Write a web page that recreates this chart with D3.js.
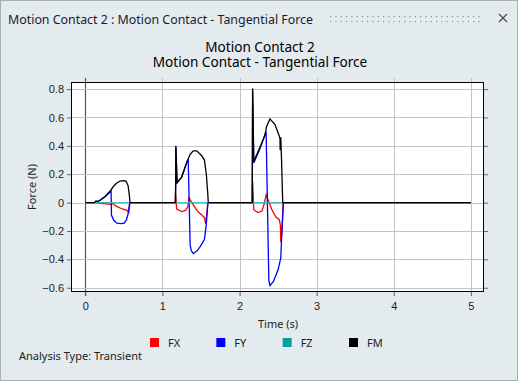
<!DOCTYPE html>
<html>
<head>
<meta charset="utf-8">
<script src="https://cdn.jsdelivr.net/npm/d3@7"></script>
<style>
  body { margin: 0; background: #e4ebef; }
  svg { display: block; font-family: "Noto Sans", "Open Sans", sans-serif; }
  .tick text { font-size: 11px; fill: #222; }
  .label-text { font-size: 11px; fill: #222; }
</style>
</head>
<body>
<script>
// time (s), force (N) pairs per series
var fxPoints = [[0,0],[0.13,0],[0.2,-0.005],[0.33,-0.012],[0.335,0],[0.36,-0.01],[0.42,-0.03],[0.48,-0.045],[0.54,-0.055],[0.565,-0.07],[0.58,0],
    [1.165,0],[1.17,0.066],[1.185,-0.045],[1.25,-0.063],[1.30,-0.055],[1.33,-0.03],[1.345,0.035],[1.40,-0.016],[1.46,-0.063],[1.51,-0.087],[1.545,-0.105],[1.56,-0.15],[1.575,-0.08],[1.59,0],
    [2.165,0],[2.17,0.148],[2.185,-0.05],[2.24,-0.07],[2.29,-0.06],[2.32,-0.01],[2.345,0.055],[2.42,-0.05],[2.47,-0.1],[2.515,-0.12],[2.53,-0.16],[2.535,-0.28],[2.55,-0.2],[2.565,0],[5,0]];
var fyPoints = [[0,0],[0.12,0],[0.14,0.01],[0.16,0.006],[0.2,0.018],[0.26,0.043],[0.32,0.072],[0.335,0.08],[0.34,-0.09],[0.37,-0.125],[0.41,-0.145],[0.46,-0.148],[0.505,-0.145],[0.535,-0.12],[0.555,-0.08],[0.575,0],
    [1.17,0],[1.175,0.39],[1.19,0.14],[1.25,0.18],[1.32,0.29],[1.335,0.30],[1.36,-0.30],[1.375,-0.34],[1.40,-0.36],[1.45,-0.34],[1.49,-0.31],[1.545,-0.26],[1.57,-0.15],[1.59,0],
    [2.165,0],[2.17,0.79],[2.185,0.28],[2.265,0.38],[2.33,0.48],[2.345,0.50],[2.38,-0.55],[2.395,-0.585],[2.44,-0.556],[2.50,-0.474],[2.535,-0.39],[2.55,-0.2],[2.57,0],[5,0]];
var fzPoints = [[0,0],[5,0]];
var fmPoints = [[0,0],[0.12,0],[0.14,0.012],[0.16,0.008],[0.2,0.02],[0.26,0.045],[0.32,0.08],[0.36,0.11],[0.4,0.135],[0.45,0.152],[0.5,0.155],[0.53,0.15],[0.555,0.12],[0.57,0.06],[0.58,0],
    [1.17,0],[1.175,0.40],[1.19,0.14],[1.25,0.18],[1.32,0.29],[1.36,0.34],[1.40,0.365],[1.445,0.365],[1.51,0.33],[1.545,0.30],[1.57,0.2],[1.59,0.05],[1.595,0],
    [2.165,0],[2.17,0.805],[2.185,0.29],[2.265,0.39],[2.33,0.475],[2.35,0.535],[2.395,0.59],[2.46,0.55],[2.515,0.47],[2.525,0.45],[2.527,0.37],[2.535,0.46],[2.545,0.3],[2.56,0],[5,0]];

var seriesNames = ["FX", "FY", "FZ", "FM"];
var colors = {FX: "#ff0000", FY: "#0000ff", FZ: "#00a0a0", FM: "#000000"};
var xTicks = [0, 1, 2, 3, 4, 5];
var yTicks = [-0.6, -0.4, -0.2, 0, 0.2, 0.4, 0.6, 0.8];
var titleLines = ["Motion Contact 2", "Motion Contact - Tangential Force"];

var W = 518, H = 381;
var margin = {top: 82, left: 71, right: 34, bottom: 89};
var width = W - margin.left - margin.right;
var height = H - margin.top - margin.bottom;

var root = d3.select("body").append("svg")
    .attr("width", W)
    .attr("height", H);

// window frame
root.append("rect")
    .attr("x", 0.5).attr("y", 0.5)
    .attr("width", W - 1).attr("height", H - 1)
    .attr("fill", "#e4ebef")
    .attr("stroke", "#a9b0b5");

root.append("text")
    .attr("x", 8).attr("y", 24)
    .attr("textLength", 305)
    .attr("lengthAdjust", "spacingAndGlyphs")
    .style("font-size", "13.4px")
    .style("fill", "#1a1a2a")
    .text("Motion Contact 2 : Motion Contact - Tangential Force");

// drag grip dots
for (var gx = 330; gx < 482; gx += 5.3) {
    [16, 21].forEach(function(gy) {
        root.append("rect")
            .attr("x", gx).attr("y", gy)
            .attr("width", 1.2).attr("height", 1.2)
            .attr("fill", "#8a9096");
    });
}
root.append("path")
    .attr("d", "M499,14L507,22M507,14L499,22")
    .attr("stroke", "#444")
    .attr("stroke-width", 1.1);

var svg = root.append("g")
    .attr("transform", "translate(" + margin.left + "," + margin.top + ")");

var xScale = d3.scaleLinear().domain([-0.185, 5.17]).range([0, width]);
var yScale = d3.scaleLinear().domain([-0.63, 0.85]).range([height, 0]);

svg.append("rect")
    .attr("width", width).attr("height", height)
    .attr("fill", "#fff");

// grid
svg.selectAll(".vgrid")
    .data(xTicks)
    .enter()
    .append("line")
    .attr("x1", function(d) { return Math.round(xScale(d)) + 0.5; })
    .attr("x2", function(d) { return Math.round(xScale(d)) + 0.5; })
    .attr("y1", -4).attr("y2", height + 4)
    .attr("stroke", function(d) { return d === 0 ? "#555" : "#c4c4c4"; })
    .attr("stroke-width", function(d) { return d === 0 ? 1.2 : 1; });

svg.selectAll(".hgrid")
    .data(yTicks)
    .enter()
    .append("line")
    .attr("y1", function(d) { return Math.round(yScale(d)) + 0.5; })
    .attr("y2", function(d) { return Math.round(yScale(d)) + 0.5; })
    .attr("x1", 0).attr("x2", width)
    .attr("stroke", "#c4c4c4");

var xAxis = d3.axisBottom(xScale).tickValues(xTicks).tickSize(4).tickPadding(6).tickFormat(d3.format("d"));
var yAxis = d3.axisLeft(yScale).tickValues(yTicks).tickSize(4).tickPadding(3)
    .tickFormat(function(d) { return d === 0 ? "0" : d3.format(".1f")(d); });

svg.append("g")
    .attr("transform", "translate(0," + height + ")")
    .call(xAxis)
    .call(function(g) { g.select(".domain").remove(); g.selectAll("line").attr("stroke", "#666"); });

svg.append("g")
    .call(yAxis)
    .call(function(g) { g.select(".domain").remove(); g.selectAll("line").attr("stroke", "#666"); });

svg.append("g")
    .attr("transform", "translate(" + width + ",0)")
    .call(d3.axisRight(yScale).tickValues(yTicks).tickSize(4).tickFormat(""))
    .call(function(g) { g.select(".domain").remove(); g.selectAll("line").attr("stroke", "#666"); });

var line = d3.line()
    .x(function(d) { return xScale(d[0]); })
    .y(function(d) { return yScale(d[1]); });

var series = [
    {name: "FX", values: fxPoints},
    {name: "FY", values: fyPoints},
    {name: "FZ", values: fzPoints},
    {name: "FM", values: fmPoints}
];

svg.selectAll(".line")
    .data(series)
    .enter()
    .append("path")
    .attr("class", "line")
    .attr("fill", "none")
    .attr("stroke-width", 1.3)
    .attr("stroke", function(d) { return d.name === "FZ" ? "#40bdbd" : colors[d.name]; })
    .attr("d", function(d) { return line(d.values); });

svg.append("rect")
    .attr("x", 0.5).attr("y", 0.5)
    .attr("width", width - 1).attr("height", height - 1)
    .attr("fill", "none")
    .attr("stroke", "#000");

// two-line title
root.append("text")
    .attr("text-anchor", "middle")
    .style("font-size", "13.6px")
    .style("fill", "#000")
    .selectAll("tspan")
    .data(titleLines)
    .enter()
    .append("tspan")
    .attr("x", 260)
    .attr("y", function(d, i) { return 52 + i * 15; })
    .text(function(d) { return d; });

root.append("text")
    .attr("class", "label-text")
    .attr("x", margin.left + xScale(2.5)).attr("y", 328)
    .attr("text-anchor", "middle")
    .text("Time (s)");

root.append("text")
    .attr("class", "label-text")
    .attr("transform", "translate(36," + (margin.top + height / 2) + ") rotate(-90)")
    .attr("text-anchor", "middle")
    .text("Force (N)");

// legend
var legendScale = d3.scaleLinear().domain([0, 3]).range([150, 349]);
root.selectAll(".legend-rect")
    .data(seriesNames)
    .enter()
    .append("rect")
    .attr("x", function(d, i) { return legendScale(i); })
    .attr("y", 338)
    .attr("width", 9).attr("height", 9)
    .attr("fill", function(d) { return colors[d]; });

root.selectAll(".legend-text")
    .data(seriesNames)
    .enter()
    .append("text")
    .attr("class", "label-text")
    .attr("x", function(d, i) { return legendScale(i) + 18; })
    .attr("y", 347)
    .text(function(d) { return d; });

root.append("text")
    .attr("class", "label-text")
    .attr("x", 19).attr("y", 360)
    .text("Analysis Type: Transient");
</script>
</body>
</html>
